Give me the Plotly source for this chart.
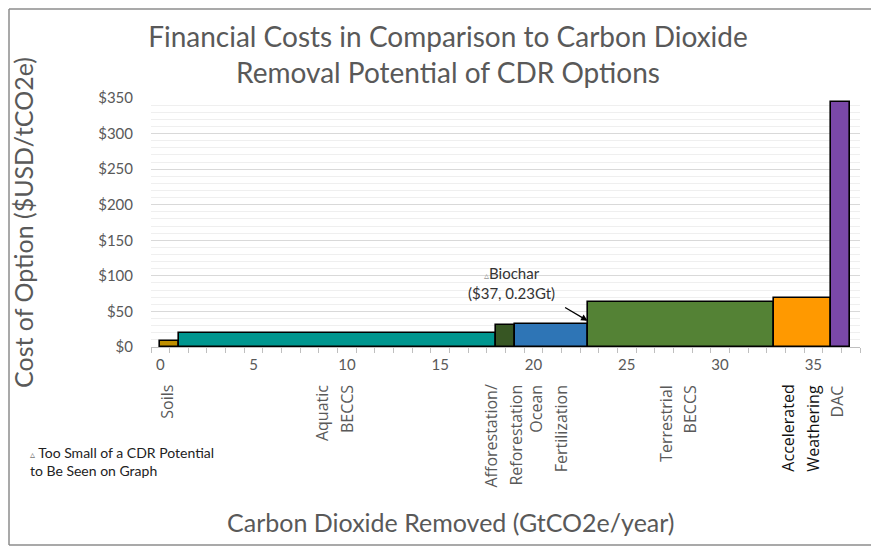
import plotly.graph_objects as go

# ---------------- data ----------------
categories = ["Soils", "Aquatic BECCS", "Afforestation/Reforestation", "Ocean Fertilization",
              "Terrestrial BECCS", "Accelerated Weathering", "DAC"]
label_lines = [["Soils"], ["Aquatic", "BECCS"], ["Afforestation/", "Reforestation"],
               ["Ocean", "Fertilization"], ["Terrestrial", "BECCS"],
               ["Accelerated", "Weathering"], ["DAC"]]
potential_gt = [1.0, 17.0, 1.0, 3.9, 10.0, 3.05, 1.0]       # GtCO2e/year (bar widths)
cost_usd = [9, 20, 31, 33, 63, 69, 345]                       # $USD/tCO2e (bar heights)
colors = ["#BF8F00", "#00968F", "#375623", "#2E75B6", "#548235", "#FF9900", "#7A48A8"]
label_colors = ["#595959", "#595959", "#595959", "#595959", "#595959", "#111111", "#595959"]

biochar_cost = 37
biochar_potential = 0.23
biochar_after = "Ocean Fertilization"   # position in the ordering

x_ticks = [0, 5, 10, 15, 20, 25, 30, 35]
y_ticks = [0, 50, 100, 150, 200, 250, 300, 350]
y_tick_text = ["$" + str(v) for v in y_ticks]

# ---------------- derived positions ----------------
starts = []
acc = 0.0
for w in potential_gt:
    starts.append(acc)
    acc += w
centers = [s + w / 2 for s, w in zip(starts, potential_gt)]
bi = categories.index(biochar_after)
biochar_x = starts[bi] + potential_gt[bi]

# page body has an 8px margin, so the figure is sized to fill the rest of the window
OFF = 8
W, H = 879 - OFF, 550 - OFF
ML, MR, MT, MB = 143, 19, 90, 203
pw, ph = W - ML - MR, H - MT - MB


def px(xr):   # reference-window x pixel -> paper x
    return (xr - OFF - ML) / pw


def py(yr):   # reference-window y pixel -> paper y
    return (H - MB - (yr - OFF)) / ph


fig = go.Figure()
fig.add_trace(go.Bar(
    x=centers, y=cost_usd, width=potential_gt,
    marker=dict(color=colors, line=dict(color="#000000", width=1.6)),
    text=categories, hoverinfo="text+y", textposition="none",
    showlegend=False,
))

font_main = "Lato, 'Open Sans', sans-serif"
grey = "#595959"

annotations = []
for c, lines, col in zip(centers, label_lines, label_colors):
    n = len(lines)
    for i, t in enumerate(lines):
        annotations.append(dict(
            x=c, y=0, xref="x", yref="y", text=t, showarrow=False, textangle=-90,
            xanchor="center", yanchor="top", yshift=-36,
            xshift=-3 + (i - (n - 1) / 2) * 25,
            font=dict(family="'Open Sans', sans-serif", size=16, color=col),
        ))

# Biochar callout
annotations.append(dict(
    x=biochar_x, y=biochar_cost, xref="x", yref="y", text="", showarrow=True,
    ax=-24, ay=-14, arrowhead=2, arrowsize=1, arrowwidth=1.3, arrowcolor="#000000",
    standoff=0,
))
annotations.append(dict(
    x=biochar_x, y=biochar_cost, xref="x", yref="y",
    text="<span style='color:#999999;font-size:10px'>\u25b5</span>Biochar<br>($37, 0.23Gt)",
    showarrow=False, xshift=-76, yshift=38, align="center",
    font=dict(family=font_main, size=15, color="#333333"),
))
# Footnote
annotations.append(dict(
    x=px(28), y=py(442), xref="paper", yref="paper",
    text="<span style='font-size:10px;color:#777'>\u25b5</span> Too Small of a CDR Potential<br>to Be Seen on Graph",
    showarrow=False, xanchor="left", yanchor="top", align="left",
    font=dict(family=font_main, size=14, color="#222222"),
))
# X-axis title (centred on the whole chart, as in the original)
annotations.append(dict(
    x=px(451), y=py(522), xref="paper", yref="paper",
    text="Carbon Dioxide Removed (GtCO2e/year)", showarrow=False,
    xanchor="center", yanchor="middle",
    font=dict(family=font_main, size=25, color=grey),
))

border = dict(color="#8c8c8c", width=1.5)
fig.update_layout(
    width=W, height=H,
    margin=dict(l=ML, r=MR, t=MT, b=MB, autoexpand=False),
    paper_bgcolor="white", plot_bgcolor="white",
    bargap=0,
    title=dict(
        text="Financial Costs in Comparison to Carbon Dioxide<br>Removal Potential of CDR Options",
        x=(448 - OFF) / W, xanchor="center", y=1 - (47 - OFF) / H, yanchor="middle",
        font=dict(family=font_main, size=28, color=grey),
    ),
    xaxis=dict(
        range=[-0.5, 37.5], tickvals=x_ticks, ticks="", showgrid=False,
        showline=True, linecolor="#bfbfbf", linewidth=1, zeroline=False,
        tickfont=dict(family=font_main, size=15, color=grey),
        ticklabelstandoff=4,
        minor=dict(tick0=0.5, dtick=1, ticks="outside", ticklen=5, tickcolor="#bfbfbf", showgrid=False),
        fixedrange=True,
    ),
    yaxis=dict(
        range=[0, 350], tickvals=y_ticks, ticktext=y_tick_text, ticks="",
        showgrid=True, gridcolor="#d9d9d9", gridwidth=1, zeroline=False, showline=False,
        tickfont=dict(family=font_main, size=15, color=grey),
        ticklabelstandoff=17,
        minor=dict(dtick=10, showgrid=True, gridcolor="#efefef", gridwidth=1),
        title=dict(text="Cost of Option ($USD/tCO2e)", standoff=60,
                   font=dict(family=font_main, size=25, color=grey)),
        fixedrange=True,
    ),
    annotations=annotations,
    shapes=[
        dict(type="line", xref="paper", yref="paper", layer="below",
             x0=px(9), x1=px(882), y0=py(9), y1=py(9), line=border),
        dict(type="line", xref="paper", yref="paper", layer="below",
             x0=px(9), x1=px(882), y0=py(545), y1=py(545), line=border),
        dict(type="line", xref="paper", yref="paper", layer="below",
             x0=px(9), x1=px(9), y0=py(545), y1=py(9), line=border),
    ],
)

fig.write_html("out.html")
